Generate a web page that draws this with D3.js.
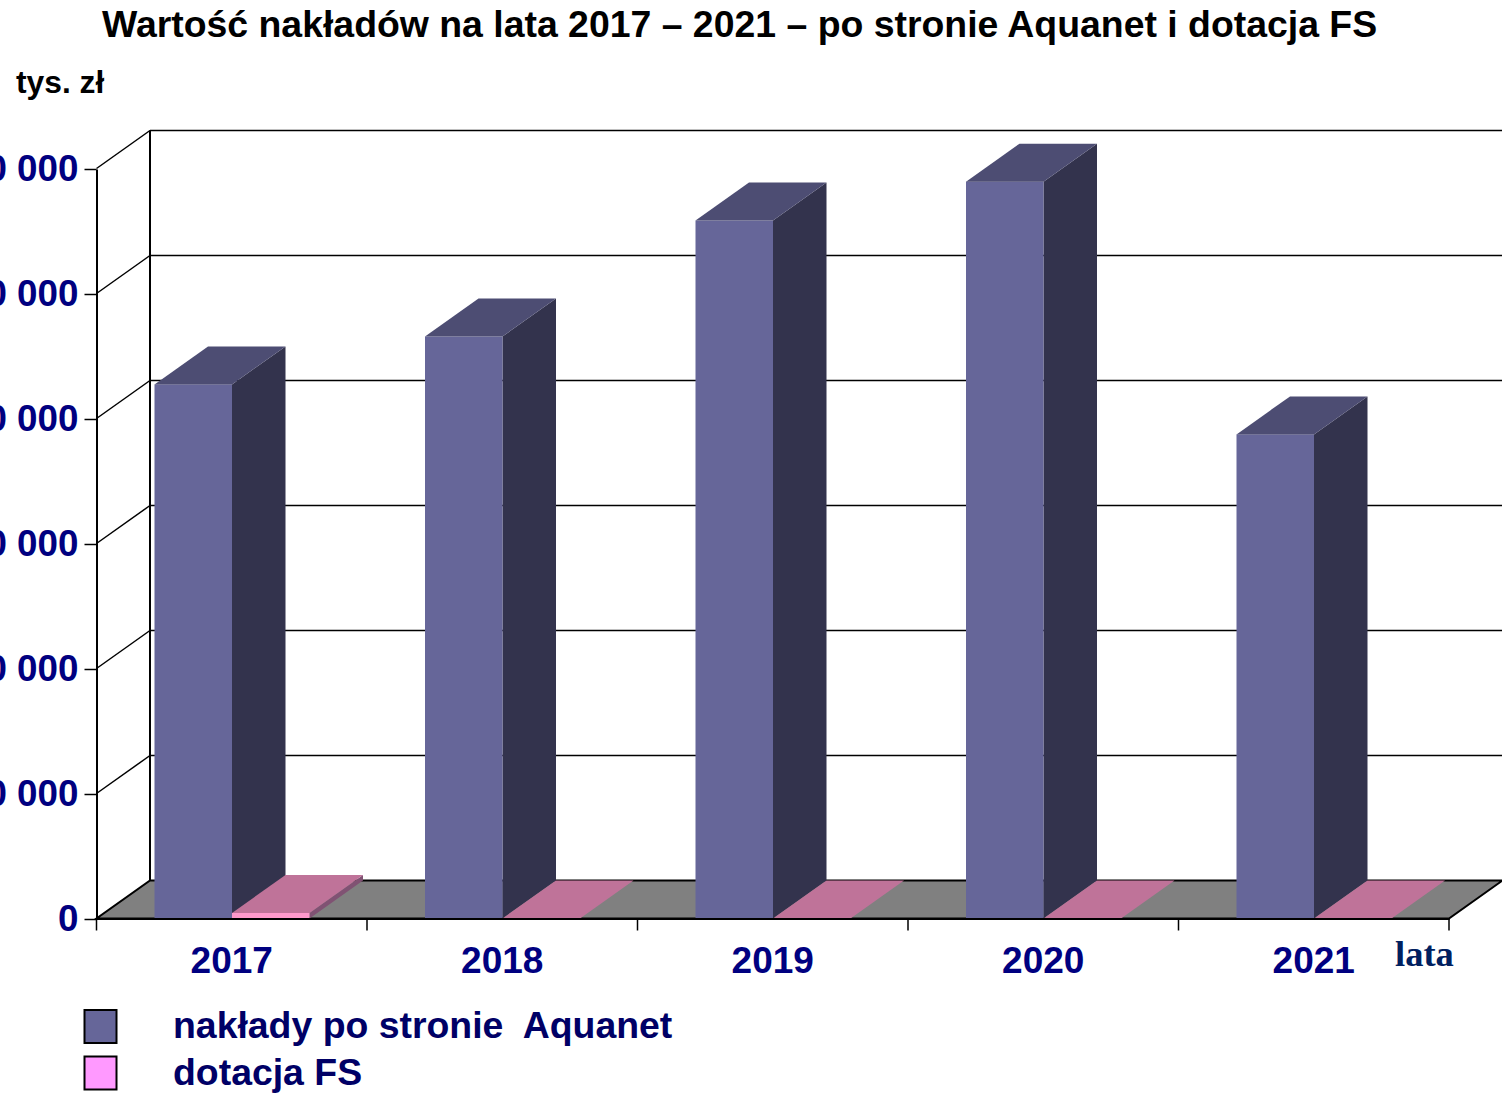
<!DOCTYPE html>
<html>
<head>
<meta charset="utf-8">
<title>Wartość nakładów</title>
<script src="https://cdn.jsdelivr.net/npm/d3@7"></script>
<style>
body { margin: 0; background: #fff; overflow: hidden; }
svg { display: block; }
text { font-family: "Liberation Sans", Arial, sans-serif; font-weight: bold; white-space: pre; }
</style>
</head>
<body>
<div id="chart"></div>
<script>
// values, tys. zl
var categories = ["2017", "2018", "2019", "2020", "2021"];
var aquanet = [42730, 46560, 55840, 58950, 38730];
var dotacja = [440, 0, 0, 0, 0];
var tickValues = [0, 10000, 20000, 30000, 40000, 50000, 60000];
var legendLabels = ["nakłady po stronie  Aquanet", "dotacja FS"];

var _width = 1502, _height = 1095;
var depthX = 53.5, depthY = -38;   // the fake 3d offset of back wall

var svg = d3.select("#chart").append("svg")
	.attr("width", _width)
	.attr("height", _height);

var x = d3.scaleBand().domain(categories).range([96.5, 1449]);
var inner = d3.scaleBand().domain(["aquanet", "dotacja"]).range([58, 213]);
var y = d3.scaleLinear().domain([0, 60000]).range([918.5, 168.5]);

/**
 * Returns a path string from a list of [x, y] corners.
 */
function poly(pts) {
	return "M" + pts.map(function(p) { return p[0] + "," + p[1]; }).join("L") + "Z";
}

/**
 * Draws one box: side, top and front faces.
 */
function drawBox(g, x0, w, value, colors) {
	var top = y(value), base = y(0);
	if (value > 0) {
		g.append("path").attr("fill", colors.side)
			.attr("d", poly([[x0 + w, top], [x0 + w + depthX, top + depthY], [x0 + w + depthX, base + depthY], [x0 + w, base]]));
		g.append("rect").attr("fill", colors.front)
			.attr("x", x0).attr("y", top).attr("width", w).attr("height", base - top);
	}
	g.append("path").attr("fill", colors.top)
		.attr("d", poly([[x0, top], [x0 + depthX, top + depthY], [x0 + w + depthX, top + depthY], [x0 + w, top]]));
}

// title and unit
svg.append("text").attr("x", 102).attr("y", 37).attr("font-size", 37.4).attr("fill", "#000")
	.text("Wartość nakładów na lata 2017 – 2021 – po stronie Aquanet i dotacja FS");
svg.append("text").attr("x", 16).attr("y", 93).attr("font-size", 31.8).attr("fill", "#000")
	.text("tys. zł");

// back wall and side wall lines
var walls = svg.append("g").attr("stroke", "#000").attr("fill", "none");
tickValues.forEach(function(v) {
	if (v == 0) return;
	walls.append("line").attr("stroke-width", 1.5)
		.attr("x1", x.range()[0]).attr("y1", y(v))
		.attr("x2", x.range()[0] + depthX).attr("y2", y(v) + depthY);
	walls.append("line").attr("stroke-width", 1.5)
		.attr("x1", x.range()[0] + depthX).attr("y1", y(v) + depthY)
		.attr("x2", _width).attr("y2", y(v) + depthY);
});
walls.append("line").attr("stroke-width", 2)
	.attr("x1", x.range()[0] + depthX).attr("y1", y(60000) + depthY)
	.attr("x2", x.range()[0] + depthX).attr("y2", y(0) + depthY);

// floor
svg.append("path").attr("fill", "#808080").attr("stroke", "#000").attr("stroke-width", 2)
	.attr("d", poly([[x.range()[0], y(0)], [x.range()[1], y(0)], [x.range()[1] + depthX, y(0) + depthY], [x.range()[0] + depthX, y(0) + depthY]]));

// bars, the blue one first because the pink slab sits in front of its side face
var bars = svg.append("g");
var blue = { front: "#666699", top: "#4d4d73", side: "#33334d" };
var pink = { front: "#ff99cc", top: "#bf7399", side: "#805273" };
categories.forEach(function(c, i) {
	drawBox(bars, x(c) + inner("aquanet"), inner.bandwidth(), aquanet[i], blue);
	drawBox(bars, x(c) + inner("dotacja"), inner.bandwidth(), dotacja[i], pink);
});

// y axis
var yAxis = d3.axisLeft(y).tickValues(tickValues).tickSize(12).tickSizeOuter(0).tickPadding(6)
	.tickFormat(function(d) { return d == 0 ? "0" : d3.format(",")(d).replace(",", " "); });
var yg = svg.append("g").attr("transform", "translate(96.5,0.5)").call(yAxis);
yg.selectAll("line").attr("stroke", "#000").attr("stroke-width", 1.5);
yg.select(".domain").attr("stroke", "#000").attr("stroke-width", 2);
yg.selectAll("text").attr("font-size", 36.8).attr("font-family", null).attr("fill", "#000080");

// x axis, the labels sit in the middle of each band and ticks on band edges
var xAxis = d3.axisBottom(x).tickSize(0).tickPadding(28);
var xg = svg.append("g").attr("transform", "translate(0,918.5)").call(xAxis);
xg.select(".domain").attr("stroke", "#000").attr("stroke-width", 2);
xg.selectAll("text").attr("font-size", 37).attr("font-family", null).attr("fill", "#000080");
categories.concat([null]).forEach(function(c) {
	var px = c == null ? x.range()[1] : x(c);
	xg.append("line").attr("stroke", "#000").attr("stroke-width", 1.5)
		.attr("x1", px).attr("x2", px).attr("y1", 0).attr("y2", 12);
});

svg.append("text").attr("x", 1395).attr("y", 966).attr("font-size", 36.5)
	.style("font-family", "'Liberation Serif', serif").attr("fill", "#002060")
	.text("lata");

// legend
var legendColors = ["#666699", "#ff99ff"];
legendLabels.forEach(function(label, i) {
	var ly = 1010 + i * 46.5;
	svg.append("rect").attr("x", 84.5).attr("y", ly).attr("width", 32).attr("height", 33)
		.attr("fill", legendColors[i]).attr("stroke", "#000").attr("stroke-width", 2);
	svg.append("text").attr("x", 173).attr("y", ly + 28).attr("font-size", 37.4).attr("fill", "#000066")
		.text(label);
});
</script>
</body>
</html>
